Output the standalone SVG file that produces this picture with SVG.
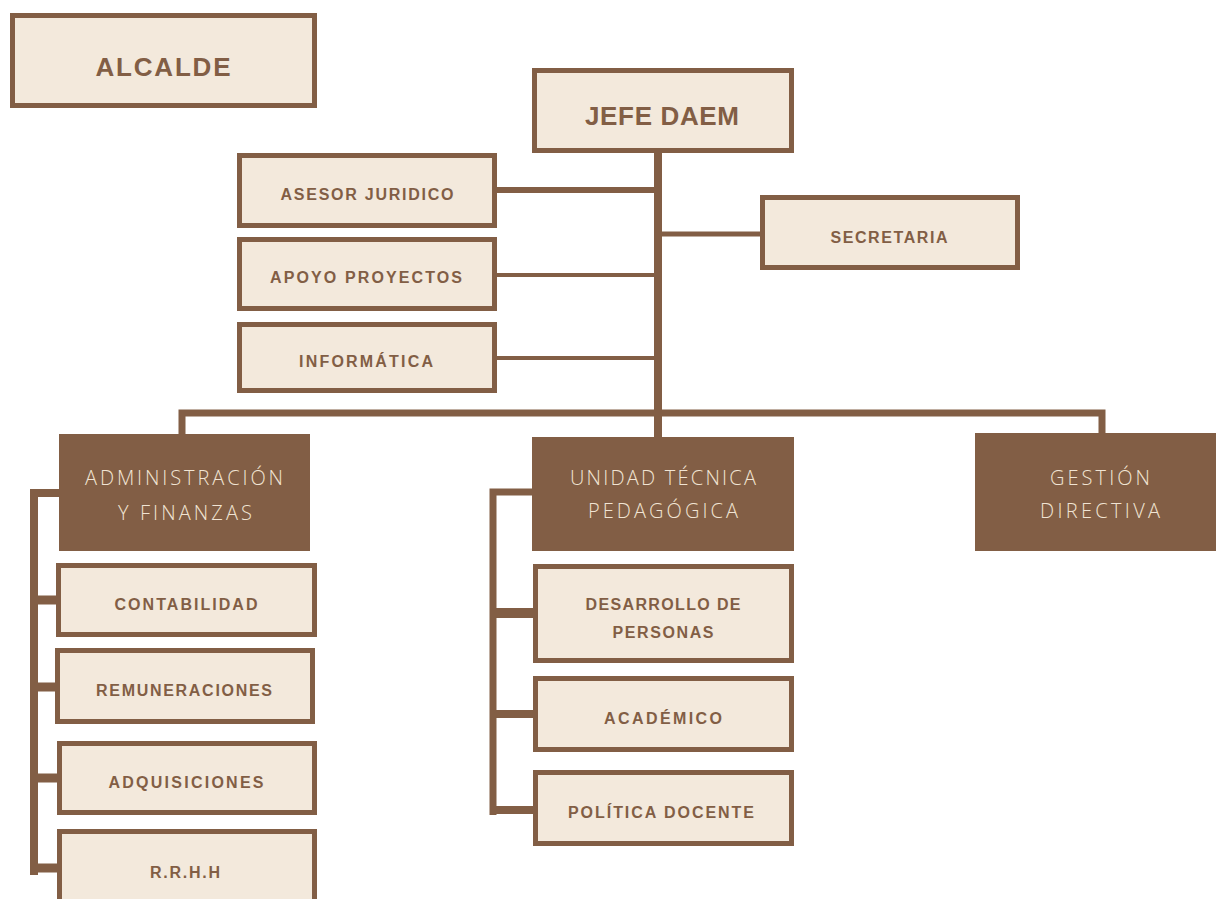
<svg xmlns="http://www.w3.org/2000/svg" width="1216" height="899" viewBox="0 0 1216 899">
<style>
.box{fill:#f3e9dc;stroke:#825e45;stroke-width:5}
.dark{fill:#825e45}
.lbl{font-family:"Liberation Sans",Arial,sans-serif;font-weight:bold;fill:#825e45;text-anchor:middle}
.big{font-size:26px}
.sm{font-size:16px}
.lt{font-family:"Open Sans","Liberation Sans",sans-serif;font-weight:300;font-size:20px;fill:#f1e4d3;text-anchor:middle}
.ln{fill:none;stroke:#825e45;stroke-linejoin:miter;stroke-linecap:butt}
</style>
<rect width="1216" height="899" fill="#ffffff"/>
<g id="connectors">
<path class="ln" d="M658,153 V437" stroke-width="8"/>
<path class="ln" d="M497,190 H658" stroke-width="6"/>
<path class="ln" d="M497,275 H658" stroke-width="4"/>
<path class="ln" d="M497,358 H658" stroke-width="4"/>
<path class="ln" d="M658,234 H760" stroke-width="5"/>
<path class="ln" d="M182,435 V413 H1102 V434" stroke-width="7"/>
<path class="ln" d="M60,493 H34 V875" stroke-width="8"/>
<path class="ln" d="M34,600 H57 M34,687 H56 M34,778 H58 M34,868 H58" stroke-width="9"/>
<path class="ln" d="M533,492 H493 V815" stroke-width="7"/>
<path class="ln" d="M493,613 H535" stroke-width="10"/>
<path class="ln" d="M493,714 H535 M493,810 H535" stroke-width="8"/>
</g>
<g id="alcalde">
<rect class="box" x="12.5" y="15.5" width="302" height="90"/>
<text class="lbl big" x="163" y="76" textLength="135" lengthAdjust="spacing">ALCALDE</text>
</g>
<g id="jefe-daem">
<rect class="box" x="534.5" y="70.5" width="257" height="80"/>
<text class="lbl big" x="662" y="125" textLength="154" lengthAdjust="spacing">JEFE DAEM</text>
</g>
<g id="asesor-juridico">
<rect class="box" x="239.5" y="155.5" width="255" height="70"/>
<text class="lbl sm" x="367" y="200" textLength="173" lengthAdjust="spacing">ASESOR JURIDICO</text>
</g>
<g id="apoyo-proyectos">
<rect class="box" x="239.5" y="239.5" width="255" height="69"/>
<text class="lbl sm" x="366" y="283" textLength="192" lengthAdjust="spacing">APOYO PROYECTOS</text>
</g>
<g id="informatica">
<rect class="box" x="239.5" y="324.5" width="255" height="66"/>
<text class="lbl sm" x="366" y="367" textLength="134" lengthAdjust="spacing">INFORMÁTICA</text>
</g>
<g id="secretaria">
<rect class="box" x="762.5" y="197.5" width="255" height="70"/>
<text class="lbl sm" x="889" y="243" textLength="117" lengthAdjust="spacing">SECRETARIA</text>
</g>
<g id="administracion-finanzas">
<rect class="dark" x="59" y="434" width="251" height="117"/>
<text class="lt" x="184" y="485" textLength="198" lengthAdjust="spacing">ADMINISTRACIÓN</text>
<text class="lt" x="185" y="520" textLength="134" lengthAdjust="spacing">Y FINANZAS</text>
</g>
<g id="unidad-tecnica-pedagogica">
<rect class="dark" x="532" y="437" width="262" height="114"/>
<text class="lt" x="663" y="485" textLength="186" lengthAdjust="spacing">UNIDAD TÉCNICA</text>
<text class="lt" x="663" y="518" textLength="150" lengthAdjust="spacing">PEDAGÓGICA</text>
</g>
<g id="gestion-directiva">
<rect class="dark" x="975" y="433" width="241" height="118"/>
<text class="lt" x="1100" y="485" textLength="100" lengthAdjust="spacing">GESTIÓN</text>
<text class="lt" x="1100" y="518" textLength="120" lengthAdjust="spacing">DIRECTIVA</text>
</g>
<g id="contabilidad">
<rect class="box" x="58.5" y="565.5" width="256" height="69"/>
<text class="lbl sm" x="186" y="610" textLength="143" lengthAdjust="spacing">CONTABILIDAD</text>
</g>
<g id="remuneraciones">
<rect class="box" x="57.5" y="650.5" width="255" height="71"/>
<text class="lbl sm" x="184" y="696" textLength="176" lengthAdjust="spacing">REMUNERACIONES</text>
</g>
<g id="adquisiciones">
<rect class="box" x="59.5" y="743.5" width="255" height="69"/>
<text class="lbl sm" x="186" y="788" textLength="155" lengthAdjust="spacing">ADQUISICIONES</text>
</g>
<g id="rrhh">
<rect class="box" x="59.5" y="831.5" width="255" height="80"/>
<text class="lbl sm" x="185" y="878" textLength="70" lengthAdjust="spacing">R.R.H.H</text>
</g>
<g id="desarrollo-personas">
<rect class="box" x="535.5" y="566.5" width="256" height="94"/>
<text class="lbl sm" x="663" y="610" textLength="155" lengthAdjust="spacing">DESARROLLO DE</text>
<text class="lbl sm" x="663" y="638" textLength="101" lengthAdjust="spacing">PERSONAS</text>
</g>
<g id="academico">
<rect class="box" x="535.5" y="678.5" width="256" height="71"/>
<text class="lbl sm" x="663" y="724" textLength="118" lengthAdjust="spacing">ACADÉMICO</text>
</g>
<g id="politica-docente">
<rect class="box" x="535.5" y="772.5" width="256" height="71"/>
<text class="lbl sm" x="661" y="818" textLength="186" lengthAdjust="spacing">POLÍTICA DOCENTE</text>
</g>
</svg>
